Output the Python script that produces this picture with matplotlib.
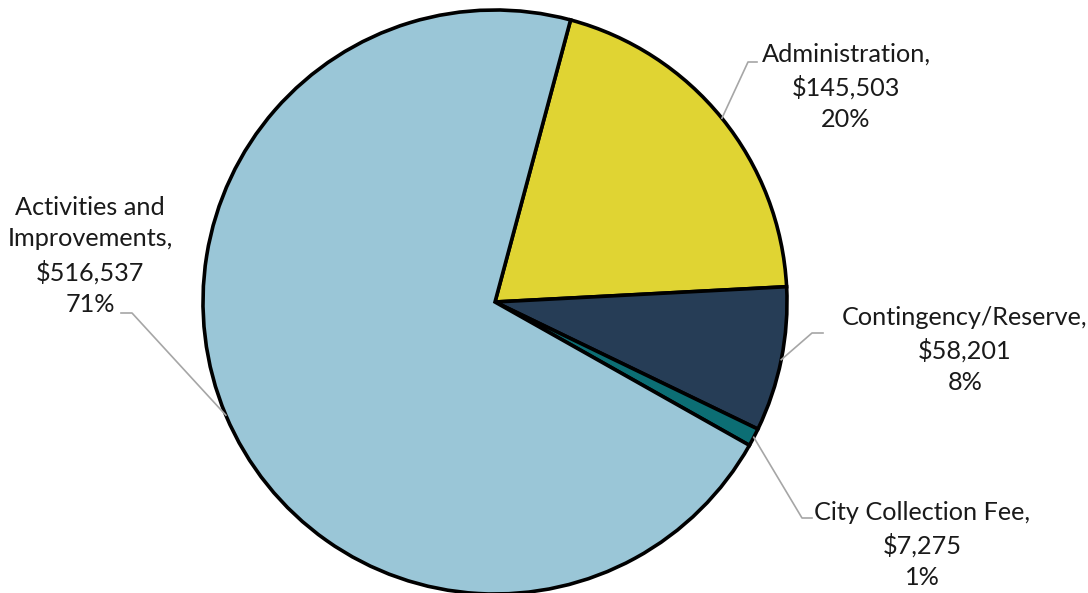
import numpy as np
import matplotlib.pyplot as plt

# budget pie
categories = ["Administration", "Contingency/Reserve", "City Collection Fee", "Activities and\nImprovements"]
amounts = [145503, 58201, 7275, 516537]
colors = ["#E0D433", "#263D56", "#0C6E74", "#9AC6D7"]

plt.rcParams['font.family'] = ['Lato', 'DejaVu Sans']

fig = plt.figure(figsize=(10.88, 5.93), dpi=100)
ax = fig.add_axes([0, 0, 1, 1])
ax.set_xlim(0, 1088)
ax.set_ylim(0, 593)
ax.set_aspect('equal')
ax.axis('off')

cx, cy, r = 495, 291, 292
wedges, _ = ax.pie(amounts, colors=colors, startangle=75, counterclock=False,
                   center=(cx, cy), radius=r,
                   wedgeprops=dict(edgecolor='black', linewidth=2.6))
ax.set_xlim(0, 1088)
ax.set_ylim(0, 593)

total = sum(amounts)
# text block centre (x, y) and leader elbow, in pixels of the figure
label_pos = [(846, 506, 748, 531, 757),
             (965, 243, 812, 260, 823),
             (922, 48, 802, 75, 812),
             (90, 337, 132, 280, 121)]
for w, cat, amt, (tx, ty, ex, ey, hx) in zip(wedges, categories, amounts, label_pos):
    mid = np.deg2rad((w.theta1 + w.theta2) / 2)
    px, py = cx + r * np.cos(mid), cy + r * np.sin(mid)
    ax.plot([px, ex, hx], [py, ey, ey], color='#A6A6A6', lw=1.2, zorder=3)
    txt = f"{cat},\n${amt:,}\n{amt / total:.0%}"
    ax.text(tx, ty, txt, ha='center', va='center', fontsize=18.2,
            linespacing=1.47, color='#1a1a1a')

fig.savefig("out.png", dpi=100)
